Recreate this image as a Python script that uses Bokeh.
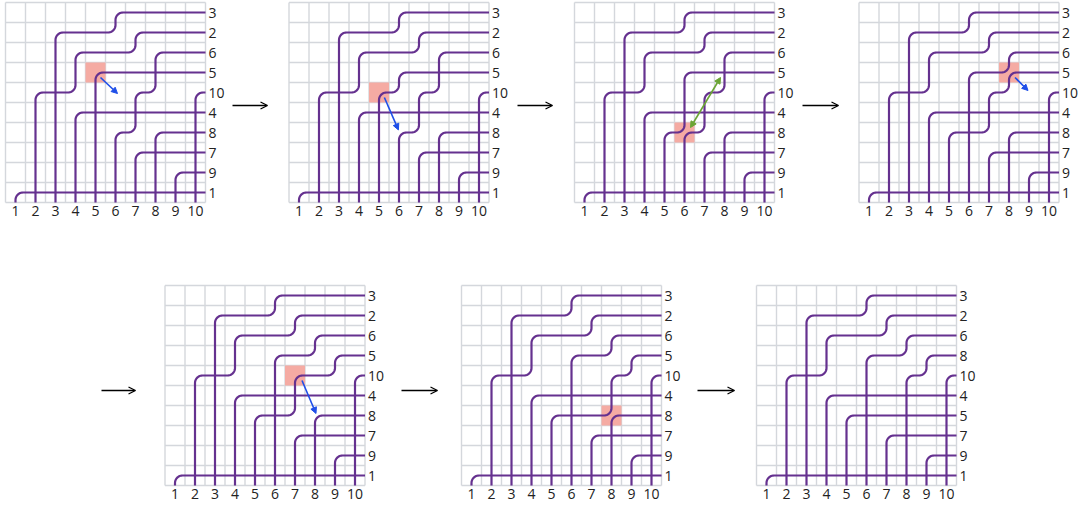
import math
from bokeh.plotting import figure
from bokeh.models import Range1d, Arrow, NormalHead, OpenHead
from bokeh.embed import file_html
from bokeh.resources import INLINE
from bokeh.core.properties import value

# ---------------- data ----------------
columns = [1, 2, 3, 4, 5, 6, 7, 8, 9, 10]
column_labels = ["1", "2", "3", "4", "5", "6", "7", "8", "9", "10"]

# pipe id -> [c0, r0, c1, r1, ...]: up column c0 to row r0, right to column c1, up to row r1, ... then right to exit
panel1_pipes = {1: [1, 10], 2: [2, 5, 4, 3, 7, 2], 3: [3, 2, 6, 1], 4: [4, 6], 5: [5, 4],
                6: [6, 7, 7, 5, 8, 3], 7: [7, 8], 8: [8, 7], 9: [9, 9], 10: [10, 5]}
panel2_pipes = {1: [1, 10], 2: [2, 5, 4, 3, 7, 2], 3: [3, 2, 6, 1], 4: [4, 6], 5: [5, 5, 6, 4],
                6: [6, 7, 7, 5, 8, 3], 7: [7, 8], 8: [8, 7], 9: [9, 9], 10: [10, 5]}
panel3_pipes = {1: [1, 10], 2: [2, 5, 4, 3, 7, 2], 3: [3, 2, 6, 1], 4: [4, 6], 5: [5, 7, 6, 4],
                6: [6, 7, 7, 5, 8, 3], 7: [7, 8], 8: [8, 7], 9: [9, 9], 10: [10, 5]}
panel4_pipes = {1: [1, 10], 2: [2, 5, 4, 3, 7, 2], 3: [3, 2, 6, 1], 4: [4, 6], 5: [5, 7, 7, 5, 8, 4],
                6: [6, 4, 8, 3], 7: [7, 8], 8: [8, 7], 9: [9, 9], 10: [10, 5]}
panel5_pipes = {1: [1, 10], 2: [2, 5, 4, 3, 7, 2], 3: [3, 2, 6, 1], 4: [4, 6], 5: [5, 7, 7, 5, 9, 4],
                6: [6, 4, 8, 3], 7: [7, 8], 8: [8, 7], 9: [9, 9], 10: [10, 5]}
panel6_pipes = {1: [1, 10], 2: [2, 5, 4, 3, 7, 2], 3: [3, 2, 6, 1], 4: [4, 6], 5: [5, 7, 8, 5, 9, 4],
                6: [6, 4, 8, 3], 7: [7, 8], 8: [8, 7], 9: [9, 9], 10: [10, 5]}
panel7_pipes = {1: [1, 10], 2: [2, 5, 4, 3, 7, 2], 3: [3, 2, 6, 1], 4: [4, 6], 5: [5, 7],
                6: [6, 4, 8, 3], 7: [7, 8], 8: [8, 5, 9, 4], 9: [9, 9], 10: [10, 5]}

row_labels_1 = ["3", "2", "6", "5", "10", "4", "8", "7", "9", "1"]
row_labels_2 = ["3", "2", "6", "5", "10", "4", "8", "7", "9", "1"]
row_labels_3 = ["3", "2", "6", "5", "10", "4", "8", "7", "9", "1"]
row_labels_4 = ["3", "2", "6", "5", "10", "4", "8", "7", "9", "1"]
row_labels_5 = ["3", "2", "6", "5", "10", "4", "8", "7", "9", "1"]
row_labels_6 = ["3", "2", "6", "5", "10", "4", "8", "7", "9", "1"]
row_labels_7 = ["3", "2", "6", "8", "10", "4", "5", "7", "9", "1"]

# highlighted cell (row, col) per panel
highlight_cells = [(4, 5), (5, 5), (7, 6), (4, 8), (5, 7), (7, 8), None]
# move arrows in (col, row) units: start, end, kind
move_arrows = [((5.25, 4.25), (6.1, 5.05), "blue"),
               ((5.27, 5.25), (5.97, 6.87), "blue"),
               ((6.3, 6.75), (7.8, 4.25), "green"),
               ((8.3, 4.25), (8.95, 4.9), "blue"),
               ((7.35, 5.25), (8.05, 6.9), "blue"),
               None, None]

panels_pipes = [panel1_pipes, panel2_pipes, panel3_pipes, panel4_pipes,
                panel5_pipes, panel6_pipes, panel7_pipes]
panels_rows = [row_labels_1, row_labels_2, row_labels_3, row_labels_4,
               row_labels_5, row_labels_6, row_labels_7]

# ---------------- layout / style ----------------
origins = [(5, 2), (288.5, 2), (574, 2), (858.5, 2), (164.5, 285), (461, 285), (756, 285)]
between_arrows = [(232, 267, 105), (517, 552, 105), (802, 838, 105),
                  (101, 135, 390), (401, 437, 390), (697, 734, 390)]
CELL = 20.0
RAD = 7.5
PURPLE = "#65318f"
GRIDC = "#d4d7dc"
PINK = "#f5aba3"
BLUE = "#1f4fe8"
GREEN = "#6aa434"
W, H = 1079, 508

p = figure(width=W, height=H, output_backend="svg", toolbar_location=None,
           x_range=Range1d(0, W), y_range=Range1d(H, 0), min_border=0)
p.axis.visible = False
p.grid.visible = False
p.outline_line_color = None
p.background_fill_color = "white"


def rounded_path(verts, r):
    xs, ys = [verts[0][0]], [verts[0][1]]
    for i in range(1, len(verts) - 1):
        V = verts[i]
        A = verts[i - 1]
        B = verts[i + 1]
        d1 = (V[0] - A[0], V[1] - A[1])
        l1 = math.hypot(*d1)
        d1 = (d1[0] / l1, d1[1] / l1)
        d2 = (B[0] - V[0], B[1] - V[1])
        l2 = math.hypot(*d2)
        d2 = (d2[0] / l2, d2[1] / l2)
        P1 = (V[0] - r * d1[0], V[1] - r * d1[1])
        P2 = (V[0] + r * d2[0], V[1] + r * d2[1])
        C = (P1[0] + r * d2[0], P1[1] + r * d2[1])
        a0 = math.atan2(P1[1] - C[1], P1[0] - C[0])
        a1 = math.atan2(P2[1] - C[1], P2[0] - C[0])
        da = a1 - a0
        while da > math.pi:
            da -= 2 * math.pi
        while da < -math.pi:
            da += 2 * math.pi
        n = 12
        for k in range(n + 1):
            a = a0 + da * k / n
            xs.append(C[0] + r * math.cos(a))
            ys.append(C[1] + r * math.sin(a))
    xs.append(verts[-1][0])
    ys.append(verts[-1][1])
    return xs, ys


for k, (ox, oy) in enumerate(origins):
    X = lambda c, ox=ox: ox + (c - 0.5) * CELL
    Y = lambda r, oy=oy: oy + (r - 0.5) * CELL
    size = CELL * len(columns)
    # grid
    gx0, gy0, gx1, gy1 = [], [], [], []
    for i in range(len(columns) + 1):
        gx0 += [ox + i * CELL, ox]
        gy0 += [oy, oy + i * CELL]
        gx1 += [ox + i * CELL, ox + size]
        gy1 += [oy + size, oy + i * CELL]
    p.segment(x0=gx0, y0=gy0, x1=gx1, y1=gy1, line_color=GRIDC, line_width=1.4)
    # highlight
    hc = highlight_cells[k]
    if hc is not None:
        p.rect(x=[X(hc[1])], y=[Y(hc[0])], width=CELL, height=CELL,
               fill_color=PINK, line_color=None)
    # pipes
    mxs, mys = [], []
    for pid, path in panels_pipes[k].items():
        verts = [(X(path[0]), oy + size)]
        for j in range(0, len(path), 2):
            c, r = path[j], path[j + 1]
            verts.append((X(c), Y(r)))
            if j + 2 < len(path):
                verts.append((X(path[j + 2]), Y(r)))
        verts.append((ox + size, verts[-1][1]))
        xs, ys = rounded_path(verts, RAD)
        mxs.append(xs)
        mys.append(ys)
    p.multi_line(xs=mxs, ys=mys, line_color=PURPLE, line_width=2.2)
    # labels
    p.text(x=[ox + size + 3] * 10, y=[Y(r) for r in range(1, 11)], text=panels_rows[k],
           text_font=value("Open Sans"), text_font_size="14px", text_color="#222222",
           text_align="left", text_baseline="middle")
    p.text(x=[X(c) for c in columns], y=[oy + size + 3] * 10, text=column_labels,
           text_font=value("Open Sans"), text_font_size="14px", text_color="#222222",
           text_align="center", text_baseline="top")
    # move arrow
    ma = move_arrows[k]
    if ma is not None:
        (c0, r0), (c1, r1), kind = ma
        col = BLUE if kind == "blue" else GREEN
        head = lambda: NormalHead(size=6, fill_color=col, line_color=col, line_width=1)
        arr = Arrow(x_start=X(c0), y_start=Y(r0), x_end=X(c1), y_end=Y(r1),
                    line_color=col, line_width=1.6, end=head(),
                    start=head() if kind == "green" else None)
        p.add_layout(arr)

for (xa, xb, ya) in between_arrows:
    p.add_layout(Arrow(x_start=xa, y_start=ya, x_end=xb, y_end=ya, line_color="black",
                       line_width=1.3, end=OpenHead(size=7, line_color="black", line_width=1.3)))

open("out.html", "w").write(file_html(p, INLINE))
